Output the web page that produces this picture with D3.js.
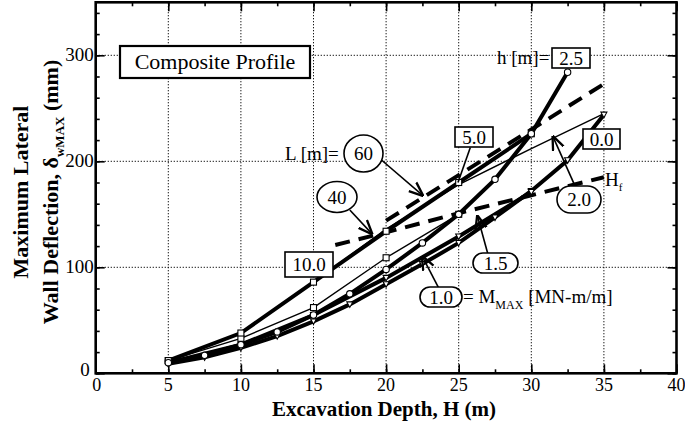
<!DOCTYPE html>
<html>
<head>
<meta charset="utf-8">
<script src="https://cdn.jsdelivr.net/npm/d3@7"></script>
<style>
  body { margin: 0; background: #fff; }
  text { font-family: "Liberation Serif", "Times New Roman", serif; fill: #000; }
</style>
</head>
<body>
<script>
// excavation depths (m) and max wall deflections (mm)
const depthH25 = [5, 7.5, 10, 12.5, 15, 17.5, 20, 22.5, 25, 27.5, 30, 32.5]
const defH25 = [10, 17, 27, 39, 55, 75, 98, 123, 150, 183, 226, 284]

const depthH10 = [5, 10, 15, 20, 25, 30]
const defH10 = [12, 38, 86, 134, 180, 226]

const depthM20 = [5, 10, 15, 20, 22.5, 25, 30, 35]
const defM20 = [12, 38, 86, 136, 157, 178, 212, 245]

const depthSq = [5, 10, 15, 20, 25]
const defSq = [12, 33, 62, 109, 150]

const depthH00 = [5, 7.5, 10, 12.5, 15, 17.5, 20, 22.5, 25, 27.5, 30, 32.5, 35]
const defH00 = [9, 15, 24, 35, 49, 65, 84, 103, 123, 147, 172, 201, 244]

const depthM15 = [5, 10, 15, 20, 25, 30]
const defM15 = [10, 27, 55, 90, 129, 171]

const depthL60 = [20, 25, 30, 35]
const defL60 = [144, 187, 230, 273]

const depthL40 = [16.5, 20, 25, 30, 35]
const defL40 = [121, 133, 151, 168, 185]

const xTicks = [0, 5, 10, 15, 20, 25, 30, 35, 40]
const yTicks = [0, 100, 200, 300]

const width = 685, height = 427
const margin = {top: 2.3, right: 8.5, bottom: 53.7, left: 95.7}

const svg = d3.select('body').append('svg')
    .attr('width', width)
    .attr('height', height)

svg.append('defs').append('marker')
    .attr('id', 'arr')
    .attr('viewBox', '0 0 10 10')
    .attr('refX', 9).attr('refY', 5)
    .attr('markerWidth', 9).attr('markerHeight', 9)
    .attr('orient', 'auto')
  .append('path')
    .attr('d', 'M0,1 L10,5 L0,9')
    .attr('fill', 'none')
    .attr('stroke', '#000')
    .attr('stroke-width', 1.6)

const xScale = d3.scaleLinear().domain([0, 40]).range([margin.left, width - margin.right])
const yScale = d3.scaleLinear().domain([0, 350]).range([height - margin.bottom, margin.top])

// dotted grid
svg.append('g').selectAll('line').data([5, 10, 15, 20, 25, 30, 35]).enter()
  .append('line')
    .attr('x1', d => xScale(d)).attr('x2', d => xScale(d))
    .attr('y1', yScale(0)).attr('y2', yScale(350))
    .attr('stroke', '#000').attr('stroke-width', 1).attr('stroke-dasharray', '1.2,1.8')
svg.append('g').selectAll('line').data([100, 200, 300]).enter()
  .append('line')
    .attr('y1', d => yScale(d)).attr('y2', d => yScale(d))
    .attr('x1', xScale(0)).attr('x2', xScale(40))
    .attr('stroke', '#000').attr('stroke-width', 1).attr('stroke-dasharray', '1.2,1.8')

// axes with inward ticks on all four sides
function tickAxis(axis, major, minor, tf) {
    const g = svg.append('g').attr('transform', tf)
    g.call(axis.tickValues(minor).tickSize(-4).tickFormat(''))
    g.select('.domain').remove()
    g.selectAll('line').attr('stroke-width', 1.6)
    const g2 = svg.append('g').attr('transform', tf)
    g2.call(axis.tickValues(major).tickSize(-9).tickFormat(''))
    g2.select('.domain').remove()
    g2.selectAll('line').attr('stroke-width', 1.6)
}
const xMinor = d3.range(0, 40.1, 2.5), yMinor = d3.range(0, 350.1, 20)
tickAxis(d3.axisBottom(xScale), xTicks, xMinor, `translate(0,${yScale(0)})`)
tickAxis(d3.axisTop(xScale), xTicks, xMinor, `translate(0,${yScale(350)})`)
tickAxis(d3.axisLeft(yScale), yTicks, yMinor, `translate(${xScale(0)},0)`)
tickAxis(d3.axisRight(yScale), yTicks, yMinor, `translate(${xScale(40)},0)`)

svg.append('rect')
    .attr('x', xScale(0)).attr('y', yScale(350))
    .attr('width', xScale(40) - xScale(0)).attr('height', yScale(0) - yScale(350))
    .attr('fill', 'none').attr('stroke', '#000').attr('stroke-width', 2.6)

// tick labels
svg.append('g').selectAll('text').data(xTicks).enter()
  .append('text')
    .attr('x', d => xScale(d) + (d == 0 ? 1 : 0))
    .attr('y', yScale(0) + 18)
    .attr('text-anchor', 'middle')
    .style('font-size', '18px')
    .text(d => d)
svg.append('g').selectAll('text').data(yTicks).enter()
  .append('text')
    .attr('x', d => xScale(0) - (d == 0 ? 6 : 2))
    .attr('y', d => yScale(d) + 6 - (d == 0 ? 3 : 0))
    .attr('text-anchor', 'end')
    .style('font-size', '19px')
    .text(d => d)

// axis titles
svg.append('text')
    .attr('x', 384).attr('y', 416)
    .attr('text-anchor', 'middle')
    .style('font-size', '21px').style('font-weight', 'bold')
    .text('Excavation Depth, H (m)')

const yt = svg.append('g').attr('transform', 'translate(28,192) rotate(-90)')
yt.append('text')
    .attr('text-anchor', 'middle')
    .style('font-size', '22px').style('font-weight', 'bold')
    .text('Maximum Lateral')
const yt2 = yt.append('text')
    .attr('y', 30)
    .attr('text-anchor', 'middle')
    .style('font-size', '22px').style('font-weight', 'bold')
yt2.append('tspan').text('Wall Deflection, \u03B4')
yt2.append('tspan').attr('dy', 6).style('font-size', '13px').text('wMAX')
yt2.append('tspan').attr('dy', -6).text(' (mm)')

// series
const series = [
    {x: depthSq, y: defSq, w: 1.4, dash: null, mark: 'square'},
    {x: depthM20, y: defM20, w: 1.4, dash: null, mark: null},
    {x: depthH00, y: defH00, w: 4, dash: null, mark: 'tri'},
    {x: depthM15, y: defM15, w: 4, dash: null, mark: 'tri'},
    {x: depthH10, y: defH10, w: 4, dash: null, mark: 'square'},
    {x: depthH25, y: defH25, w: 4, dash: null, mark: 'circle'},
    {x: depthL60, y: defL60, w: 4, dash: '15,9', mark: null},
    {x: depthL40, y: defL40, w: 4, dash: '15,9', mark: null},
]

const line = d3.line()
    .x(d => xScale(d[0]))
    .y(d => yScale(d[1]))

series.forEach(s => {
    const pts = s.x.map((v, i) => [v, s.y[i]])
    svg.append('path')
        .datum(pts)
        .attr('d', line)
        .attr('fill', 'none')
        .attr('stroke', '#000')
        .attr('stroke-width', s.w)
        .attr('stroke-dasharray', s.dash)
})

series.forEach(s => {
    if (!s.mark) return
    const pts = s.x.map((v, i) => [v, s.y[i]])
    const g = svg.append('g')
    if (s.mark == 'circle') {
        g.selectAll('circle').data(pts).enter().append('circle')
            .attr('cx', d => xScale(d[0])).attr('cy', d => yScale(d[1]))
            .attr('r', 3.2)
            .attr('fill', '#fff').attr('stroke', '#000').attr('stroke-width', 1.1)
    } else if (s.mark == 'square') {
        g.selectAll('rect').data(pts).enter().append('rect')
            .attr('x', d => xScale(d[0]) - 3).attr('y', d => yScale(d[1]) - 3)
            .attr('width', 6).attr('height', 6)
            .attr('fill', '#fff').attr('stroke', '#000').attr('stroke-width', 1.1)
    } else {
        g.selectAll('path').data(pts).enter().append('path')
            .attr('d', d => {
                const cx = xScale(d[0]), cy = yScale(d[1])
                return `M${cx - 3},${cy - 2.5} L${cx + 3},${cy - 2.5} L${cx},${cy + 3} Z`
            })
            .attr('fill', '#fff').attr('stroke', '#000').attr('stroke-width', 1.1)
    }
})

// annotations
function boxLabel(x, y, w, h, txt, rounded) {
    svg.append('rect')
        .attr('x', x).attr('y', y).attr('width', w).attr('height', h)
        .attr('rx', rounded ? h / 2 : 0)
        .attr('fill', '#fff').attr('stroke', '#000').attr('stroke-width', 1.6)
    svg.append('text')
        .attr('x', x + w / 2).attr('y', y + h / 2 + 6.5)
        .attr('text-anchor', 'middle')
        .style('font-size', '19px')
        .text(txt)
}
function ellLabel(cx, cy, rx, ry, txt) {
    svg.append('ellipse')
        .attr('cx', cx).attr('cy', cy).attr('rx', rx).attr('ry', ry)
        .attr('fill', '#fff').attr('stroke', '#000').attr('stroke-width', 1.6)
    svg.append('text')
        .attr('x', cx).attr('y', cy + 6.5)
        .attr('text-anchor', 'middle')
        .style('font-size', '19px')
        .text(txt)
}
function arrow(x1, y1, x2, y2, head) {
    svg.append('line')
        .attr('x1', xScale(x1)).attr('y1', yScale(y1))
        .attr('x2', xScale(x2)).attr('y2', yScale(y2))
        .attr('stroke', '#000').attr('stroke-width', 1.6)
        .attr('marker-end', head ? 'url(#arr)' : null)
}

arrow(19.7, 201, 22.5, 168, true)
arrow(17.5, 154, 19.0, 132, true)
arrow(33.0, 177, 31.5, 223, true)
arrow(27.0, 113, 26.3, 148, true)
arrow(23.6, 81, 22.5, 110, true)
arrow(25.8, 213, 24.95, 180, false)

svg.append('rect')
    .attr('x', 120).attr('y', 46).attr('width', 190).attr('height', 32)
    .attr('fill', '#fff').attr('stroke', '#000').attr('stroke-width', 2.2)
svg.append('text')
    .attr('x', 215).attr('y', 69)
    .attr('text-anchor', 'middle')
    .style('font-size', '22px')
    .text('Composite Profile')

svg.append('text').attr('x', 497).attr('y', 64).style('font-size', '19px').text('h [m]=')
boxLabel(552, 48, 38, 20, '2.5')
boxLabel(455, 127, 38, 20, '5.0')
boxLabel(583, 129, 37, 20, '0.0')
boxLabel(285, 252, 48, 25, '10.0')
boxLabel(557, 186, 44, 27, '2.0', true)
boxLabel(473, 253, 45, 20, '1.5', true)
boxLabel(420, 287, 42, 20, '1.0', true)

svg.append('text').attr('x', 285).attr('y', 160).style('font-size', '19px').text('L [m]=')
ellLabel(363.5, 153.5, 19.5, 18.5, '60')
ellLabel(337, 197, 20, 15.5, '40')

const hf = svg.append('text').attr('x', 605).attr('y', 186).style('font-size', '19px')
hf.append('tspan').text('H')
hf.append('tspan').attr('dy', 5).style('font-size', '11px').text('f')

const mm = svg.append('text').attr('x', 463).attr('y', 303).style('font-size', '19px')
mm.append('tspan').text('= M')
mm.append('tspan').attr('dy', 6).style('font-size', '12px').text('MAX')
mm.append('tspan').attr('dy', -6).text(' [MN-m/m]')
</script>
</body>
</html>
